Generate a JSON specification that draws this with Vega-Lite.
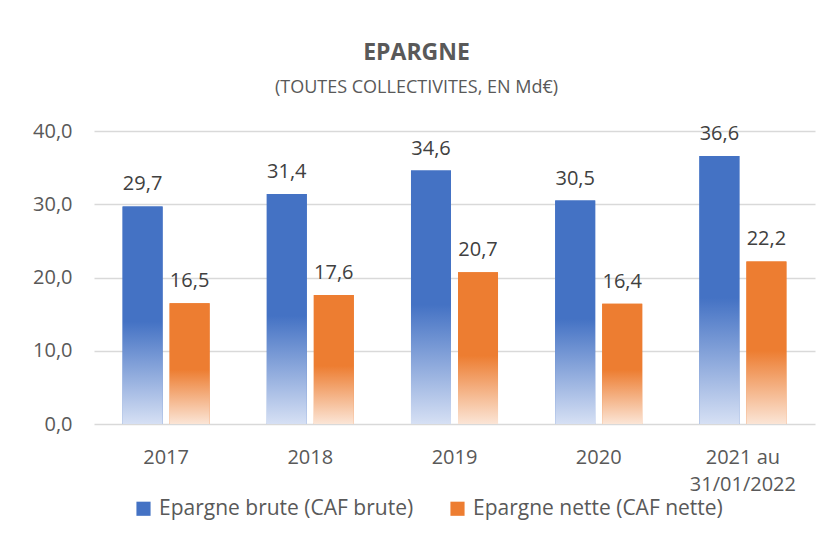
{
  "$schema": "https://vega.github.io/schema/vega-lite/v6.json",
  "width": 721,
  "height": 293,
  "padding": {"left": 32, "top": 42, "right": 15, "bottom": 10},
  "background": "white",
  "config": {
    "locale": {"number": {"decimal": ",", "thousands": " ", "grouping": [3], "currency": ["", " €"]}},
    "view": {"stroke": null},
    "font": "Open Sans"
  },
  "title": {
    "text": "EPARGNE",
    "subtitle": "(TOUTES COLLECTIVITES, EN Md€)",
    "fontSize": 23,
    "fontWeight": "bold",
    "color": "#595959",
    "subtitleFontSize": 18,
    "subtitleColor": "#595959",
    "subtitlePadding": 14,
    "offset": 24,
    "dx": -38,
    "anchor": "middle"
  },
  "data": {
    "values": [
      {"annee": "2017", "serie": "Epargne brute (CAF brute)", "valeur": 29.7},
      {"annee": "2017", "serie": "Epargne nette (CAF nette)", "valeur": 16.5},
      {"annee": "2018", "serie": "Epargne brute (CAF brute)", "valeur": 31.4},
      {"annee": "2018", "serie": "Epargne nette (CAF nette)", "valeur": 17.6},
      {"annee": "2019", "serie": "Epargne brute (CAF brute)", "valeur": 34.6},
      {"annee": "2019", "serie": "Epargne nette (CAF nette)", "valeur": 20.7},
      {"annee": "2020", "serie": "Epargne brute (CAF brute)", "valeur": 30.5},
      {"annee": "2020", "serie": "Epargne nette (CAF nette)", "valeur": 16.4},
      {"annee": "2021 au\n31/01/2022", "serie": "Epargne brute (CAF brute)", "valeur": 36.6},
      {"annee": "2021 au\n31/01/2022", "serie": "Epargne nette (CAF nette)", "valeur": 22.2}
    ]
  },
  "encoding": {
    "x": {
      "field": "annee",
      "type": "nominal",
      "sort": null,
      "scale": {"paddingInner": 0, "paddingOuter": 0},
      "axis": {
        "title": null,
        "labelAngle": 0,
        "ticks": false,
        "domain": false,
        "labelPadding": 23,
        "labelFontSize": 20,
        "labelColor": "#595959",
        "labelLineHeight": 27,
        "labelExpr": "split(datum.label, '\\n')"
      }
    },
    "xOffset": {
      "field": "serie",
      "type": "nominal",
      "sort": null,
      "scale": {"paddingInner": 0.149, "paddingOuter": 0.608}
    },
    "y": {
      "field": "valeur",
      "type": "quantitative",
      "scale": {"domain": [0, 40]},
      "axis": {
        "title": null,
        "values": [0, 10, 20, 30, 40],
        "format": ".1f",
        "ticks": false,
        "domain": false,
        "labelPadding": 22,
        "labelFontSize": 20,
        "labelColor": "#595959",
        "gridColor": "#D9D9D9",
        "gridWidth": 1.5
      }
    }
  },
  "layer": [
    {
      "mark": {"type": "bar"},
      "encoding": {
        "color": {
          "field": "serie",
          "type": "nominal",
          "scale": {
            "domain": ["Epargne brute (CAF brute)", "Epargne nette (CAF nette)"],
            "range": ["#4472C4", "#ED7D31"]
          },
          "legend": {
            "title": null,
            "orient": "none",
            "direction": "horizontal",
            "legendX": 39,
            "legendY": 367,
            "labelFontSize": 21,
            "labelColor": "#595959",
            "symbolType": "square",
            "symbolSize": 200,
            "symbolStrokeWidth": 0,
            "labelOffset": 5,
            "columnPadding": 33,
            "labelLimit": 400
          }
        }
      }
    },
    {
      "transform": [{"filter": "datum.serie === 'Epargne brute (CAF brute)'"}],
      "mark": {
        "type": "bar",
        "color": {"gradient": "linear", "x1": 0, "y1": 0, "x2": 0, "y2": 1, "stops": [{"offset": 0, "color": "#4472C4"}, {"offset": 0.53, "color": "#4472C4"}, {"offset": 1, "color": "#D6E0F4"}]}
      },
      "encoding": {}
    },
    {
      "transform": [{"filter": "datum.serie === 'Epargne nette (CAF nette)'"}],
      "mark": {
        "type": "bar",
        "color": {"gradient": "linear", "x1": 0, "y1": 0, "x2": 0, "y2": 1, "stops": [{"offset": 0, "color": "#ED7D31"}, {"offset": 0.55, "color": "#ED7D31"}, {"offset": 1, "color": "#FBE5D6"}]}
      },
      "encoding": {}
    },
    {
      "mark": {"type": "text", "baseline": "bottom", "dy": -12, "fontSize": 20, "color": "#404040"},
      "encoding": {
        "text": {"field": "valeur", "type": "quantitative", "format": ".1f"}
      }
    }
  ]
}
